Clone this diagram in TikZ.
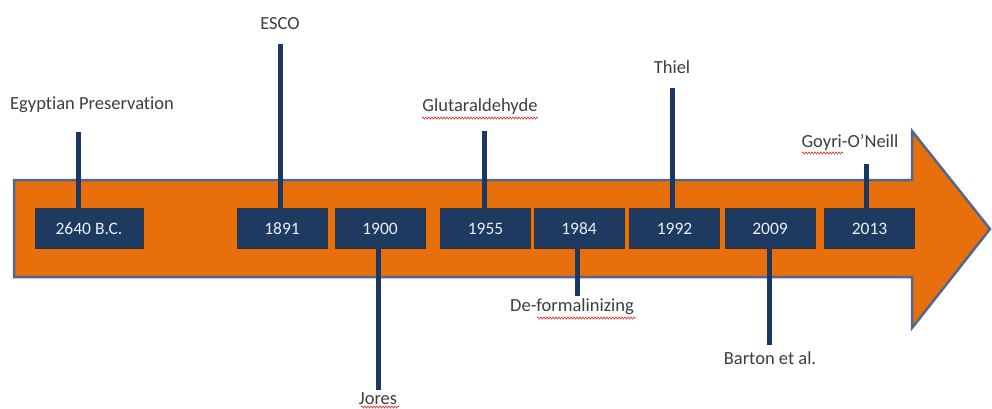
\documentclass[tikz,border=0pt]{standalone}
\usepackage{fontspec}
\setmainfont[Ligatures={NoCommon}]{Carlito}
\usetikzlibrary{decorations.pathmorphing}
\definecolor{arroworange}{RGB}{232,112,12}
\definecolor{arrowedge}{RGB}{80,104,145}
\definecolor{boxnavy}{RGB}{30,58,96}
\definecolor{stemnavy}{RGB}{28,56,98}
\definecolor{labelgray}{RGB}{62,62,62}
\definecolor{boxtext}{RGB}{235,238,245}
\definecolor{squiggle}{RGB}{225,60,60}
\tikzset{
  yearbox/.style={draw=black!80, line width=1pt, fill=boxnavy, text=boxtext,
    minimum height=40pt, minimum width=90pt, inner sep=0pt,
    font=\fontsize{17.5}{20}\selectfont},
  eventlabel/.style={text=labelgray, inner sep=0pt, font=\fontsize{18.5}{21}\selectfont},
  stem/.style={draw=stemnavy, line width=5pt},
  spell/.style={draw=squiggle, line width=0.7pt, decorate,
    decoration={snake, amplitude=1pt, segment length=3pt}}
}
\begin{document}
\begin{tikzpicture}[x=1pt, y=-1pt]
\useasboundingbox (0,0) rectangle (992,409);
\fill[white] (0,0) rectangle (992,409);
% big arrow
\draw[fill=arroworange, draw=arrowedge, line width=2.5pt, line join=miter]
  (14,180) -- (912,180) -- (912,131) -- (990,229) -- (912,328) -- (912,277) -- (14,277) -- cycle;
% year boxes
\node[yearbox, minimum width=108pt] (b2640) at (89,228.5) {2640 B.C.};
\node[yearbox] (b1891) at (282,228.5) {1891};
\node[yearbox] (b1900) at (380,228.5) {1900};
\node[yearbox] (b1955) at (485.5,228.5) {1955};
\node[yearbox] (b1984) at (579,228.5) {1984};
\node[yearbox] (b1992) at (674.5,228.5) {1992};
\node[yearbox] (b2009) at (770,228.5) {2009};
\node[yearbox] (b2013) at (869.5,228.5) {2013};
% stem end points
\coordinate (s2640) at (78,132);
\coordinate (s1891) at (280,44);
\coordinate (s1900) at (378,390);
\coordinate (s1955) at (484,131);
\coordinate (s1984) at (577,296);
\coordinate (s1992) at (672,88);
\coordinate (s2009) at (769,345);
\coordinate (s2013) at (866,164);
% stems
\draw[stem] (s2640) -- (s2640 |- b2640.north);
\draw[stem] (s1891) -- (s1891 |- b1891.north);
\draw[stem] (s1900) -- (s1900 |- b1900.south);
\draw[stem] (s1955) -- (s1955 |- b1955.north);
\draw[stem] (s1984) -- (s1984 |- b1984.south);
\draw[stem] (s1992) -- (s1992 |- b1992.north);
\draw[stem] (s2009) -- (s2009 |- b2009.south);
\draw[stem] (s2013) -- (s2013 |- b2013.north);
% labels
\node[eventlabel] (l2640) at (92,105) {Egyptian Preservation};
\node[eventlabel] (l1891) at (280,24) {ESCO};
\node[eventlabel] (l1900) at (378,399) {Jores};
\node[eventlabel] (l1955) at (480,107) {Glutaraldehyde};
\node[eventlabel] (l1984) at (572,307) {De-formalinizing};
\node[eventlabel] (l1992) at (672,67) {Thiel};
\node[eventlabel] (l2009) at (770,358) {Barton et al.};
\node[eventlabel] (l2013) at (850,142) {Goyri-O’Neill};
% spell-check squiggles
\draw[spell] (422,118) -- (538,118);
\draw[spell] (361,407) -- (399,407);
\draw[spell] (537,318) -- (636,318);
\draw[spell] (802,153) -- (843,153);
\end{tikzpicture}
\end{document}
